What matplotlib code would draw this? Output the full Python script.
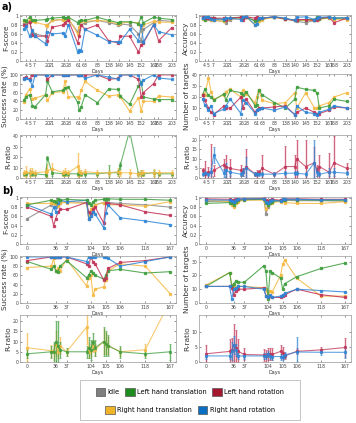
import numpy as np
import matplotlib
matplotlib.use("Agg")
import matplotlib.pyplot as plt
from matplotlib.patches import Patch, Rectangle

# colours
c_idle = "#8a8a8a"
c_lt = "#3f9e3f"
c_lr = "#c23457"
c_rt = "#f5b942"
c_rr = "#2e86d6"

# ---------------- panel a) data ----------------
days_a = [4, 5, 7, 20, 21, 26, 28, 61, 63, 83, 138, 140, 145, 152, 167, 168, 203]
day_pos_a = [1.5, 2.5, 3.75, 7.0, 8.25, 11.25, 12.5, 15.25, 16.75, 20.0, 23.0, 25.5,
             28.25, 31.25, 34.5, 35.75, 39.25]
sess_a = [1.0, 1.5, 2.5, 3.2, 3.9, 6.6, 7.1, 8.3, 11.1, 11.6, 12.5, 14.9, 15.3, 15.8,
          16.8, 20.0, 22.9, 25.4, 25.9, 28.3, 30.6, 31.3, 31.9, 34.5, 35.8, 39.2]

f_a_lt = [0.90, 0.89, 0.97, 0.90, 0.90, 0.92, 0.93, 0.95, 0.97, 0.96, 0.97, 0.85, 0.88,
          0.90, 0.90, 0.97, 0.90, 0.85, 0.87, 0.87, 0.83, 0.97, 0.85, 0.97, 0.95, 0.92]
f_a_rt = [0.88, 0.88, 0.90, 0.88, 0.86, 0.80, 0.78, 0.90, 0.92, 0.93, 0.95, 0.60, 0.75,
          0.88, 0.88, 0.90, 0.88, 0.82, 0.84, 0.86, 0.85, 0.67, 0.80, 0.88, 0.86, 0.86]
f_a_idle = [0.85, 0.85, 0.88, 0.65, 0.60, 0.55, 0.80, 0.90, 0.92, 0.90, 0.92, 0.65, 0.70,
            0.80, 0.85, 0.90, 0.85, 0.80, 0.82, 0.80, 0.60, 0.45, 0.70, 0.85, 0.90, 0.88]
f_a_lr = [0.80, 0.77, 0.87, 0.58, 0.55, 0.55, 0.45, 0.75, 0.80, 0.85, 0.90, 0.40, 0.55,
          0.80, 0.70, 0.80, 0.45, 0.40, 0.55, 0.55, 0.20, 0.35, 0.40, 0.80, 0.45, 0.74]
f_a_rr = [0.70, 0.77, 0.55, 0.68, 0.55, 0.38, 0.65, 0.60, 0.62, 0.55, 0.80, 0.20, 0.25,
          0.23, 0.70, 0.57, 0.43, 0.43, 0.42, 0.70, 0.45, 0.80, 0.43, 0.80, 0.65, 0.58]

acc_a_lt = [0.95, 0.90, 0.97, 0.95, 0.95, 0.92, 0.93, 0.96, 0.97, 0.95, 0.98, 0.88, 0.90,
            0.93, 0.95, 0.98, 0.94, 0.90, 0.90, 0.92, 0.92, 0.98, 0.93, 0.97, 0.95, 0.95]
acc_a_rt = [0.93, 0.90, 0.95, 0.92, 0.90, 0.88, 0.90, 0.93, 0.95, 0.95, 0.97, 0.80, 0.85,
            0.88, 0.92, 0.97, 0.93, 0.90, 0.90, 0.90, 0.90, 0.90, 0.93, 0.95, 0.92, 0.92]
acc_a_idle = [0.95, 0.95, 0.93, 0.92, 0.90, 0.88, 0.85, 0.92, 0.95, 0.95, 0.97, 0.90, 0.92,
              0.93, 0.95, 0.97, 0.93, 0.90, 0.88, 0.85, 0.90, 0.93, 0.95, 0.95, 0.96, 0.95]
acc_a_lr = [0.97, 0.96, 0.95, 0.95, 0.95, 0.95, 0.92, 0.95, 0.97, 0.90, 0.98, 0.95, 0.97,
            0.96, 0.95, 0.98, 0.93, 0.90, 0.92, 0.92, 0.90, 0.92, 0.95, 0.97, 0.85, 0.95]
acc_a_rr = [0.95, 0.97, 0.98, 0.93, 0.92, 0.93, 0.95, 0.95, 0.92, 0.97, 0.99, 0.80, 0.82,
            0.96, 0.95, 0.98, 0.95, 0.90, 0.97, 0.98, 0.92, 0.95, 0.97, 0.98, 0.95, 0.96]

sr_a_rr = [90, 92, 88, 75, 100, 100, 100, 100, 100, 100, 100, 100, 100, 100, 92, 100,
           95, 90, 100, 100, 100, 80, 88, 100, 93, 90]
sr_a_lr = [92, 95, 90, 100, 100, 100, 90, 100, 100, 100, 100, 100, 100, 100, 100, 100,
           90, 92, 100, 100, 90, 50, 60, 80, 100, 100]
sr_a_lt = [42, 50, 55, 30, 28, 55, 85, 62, 65, 70, 72, 38, 20, 27, 55, 37, 68, 67, 52,
           33, 75, 84, 50, 45, 44, 44]
sr_a_rt = [38, 55, 68, 45, 47, 55, 42, 60, 62, 85, 50, 50, 48, 65, 85, 65, 52, 55, 50,
           18, 48, 18, 40, 40, 52, 50]

nt_a_rt = [23, 22, 37, 25, 18, 22, 25, 27, 20, 26, 23, 15, 20, 26, 17, 14, 15, 24, 10,
           24, 10, 10, 12, 15, 20, 24]
nt_a_lt = [22, 27, 22, 20, 17, 23, 17, 26, 24, 22, 25, 12, 13, 26, 22, 15, 10, 18, 29,
           27, 26, 24, 10, 12, 18, 16]
nt_a_lr = [22, 17, 10, 6, 4, 12, 10, 10, 20, 10, 18, 6, 8, 10, 10, 11, 12, 4, 6, 10, 6,
           5, 5, 8, 11, 10]
nt_a_rr = [18, 13, 8, 12, 5, 9, 12, 18, 5, 17, 15, 5, 8, 9, 10, 8, 11, 4, 12, 6, 5, 4,
           6, 9, 12, 10]

rr_a_lt = [4, 4, 5, 4, 4, 3, 19, 5, 4, 4, 4, 4, 5, 4, 4, 4, 5, 5, 12, 45, 4, 5, 4, 5, 4, 4]
rr_a_lt_err = [2, 2, 3, 2, 2, 2, 2, 3, 2, 2, 2, 2, 3, 2, 2, 2, 7, 3, 3, 2, 2, 3, 2, 3, 2, 2]
rr_a_rt = [5, 6, 5, 6, 5, 6, 7, 9, 5, 6, 5, 11, 6, 5, 6, 5, 5, 6, 5, 5, 4, 5, 5, 5, 5, 5]
rr_a_rt_err = [3, 5, 5, 4, 3, 4, 6, 5, 3, 4, 3, 13, 4, 3, 3, 3, 3, 4, 3, 4, 3, 3, 3, 4, 3, 3]
rr_a_lr = [4, 2, 3, 3, 4, 7, 6, 5, 4, 3, 6, 2, 2, 3, 5, 2, 6, 6, 10, 6, 8, 4, 6, 3, 8, 5]
rr_a_lr_err = [1, 7, 3, 15, 3, 3, 6, 5, 3, 2, 9, 1, 2, 1, 7, 1, 11, 6, 10, 14, 8, 3, 6,
               10, 14, 3]
rr_a_rr = [2, 2.5, 2, 3, 12, 2.5, 4, 3, 2, 3, 5, 2, 2, 2, 2, 2, 2.5, 2.5, 2.5, 2, 8, 3,
           2, 3, 3, 2.5]
rr_a_rr_err = [1, 1, 1, 2, 4, 2, 4, 2, 1, 2, 6, 1, 1, 1, 1, 1, 1, 1, 1, 1, 12, 2, 1, 2, 2, 1]

# ---------------- panel b) data ----------------
days_b = [0, 36, 37, 104, 105, 106, 118, 167]
day_pos_b = [0, 4.0, 5.5, 8.9, 11.0, 13.0, 16.5, 20.0]
sess_b = [0, 3.4, 3.7, 4.0, 4.3, 4.6, 5.5, 8.3, 8.6, 8.9, 9.2, 9.5, 10.7, 11.0, 11.3,
          13.0, 16.5, 20.0]

f_b_lt = [0.85, 0.95, 0.93, 0.92, 0.97, 0.95, 0.97, 0.95, 0.90, 0.85, 0.92, 0.95, 0.97,
          0.98, 0.98, 0.97, 0.97, 0.95]
f_b_rt = [0.88, 0.88, 0.90, 0.87, 0.82, 0.90, 0.90, 0.88, 0.62, 0.75, 0.80, 0.85, 0.90,
          0.90, 0.85, 0.85, 0.82, 0.92]
f_b_idle = [0.55, 0.85, 0.90, 0.80, 0.85, 0.90, 0.92, 0.90, 0.55, 0.60, 0.70, 0.85, 0.90,
            0.92, 0.90, 0.88, 0.85, 0.80]
f_b_lr = [0.80, 0.60, 0.40, 0.55, 0.70, 0.75, 0.75, 0.90, 0.70, 0.65, 0.75, 0.80, 0.45,
          0.90, 0.88, 0.85, 0.70, 0.62]
f_b_rr = [0.85, 0.65, 0.80, 0.70, 0.90, 0.95, 0.92, 0.95, 0.55, 0.60, 0.70, 0.65, 0.35,
          0.68, 0.85, 0.57, 0.50, 0.42]

acc_b_lt = [0.88, 0.90, 0.88, 0.85, 0.92, 0.95, 0.96, 0.97, 0.88, 0.85, 0.90, 0.92, 0.95,
            0.96, 0.96, 0.96, 0.95, 0.95]
acc_b_rt = [0.95, 0.92, 0.85, 0.80, 0.88, 0.92, 0.95, 0.95, 0.75, 0.85, 0.88, 0.90, 0.92,
            0.95, 0.90, 0.88, 0.88, 0.92]
acc_b_idle = [0.92, 0.93, 0.90, 0.90, 0.92, 0.95, 0.97, 0.97, 0.65, 0.80, 0.88, 0.92,
              0.94, 0.95, 0.95, 0.94, 0.94, 0.93]
acc_b_lr = [0.98, 0.97, 0.96, 0.95, 0.97, 0.98, 0.98, 0.99, 0.95, 0.93, 0.96, 0.97, 0.95,
            0.98, 0.98, 0.98, 0.97, 0.97]
acc_b_rr = [0.96, 0.95, 0.93, 0.92, 0.95, 0.97, 0.98, 0.98, 0.92, 0.90, 0.93, 0.95, 0.93,
            0.97, 0.97, 0.97, 0.96, 0.96]

sr_b_rr = [100, 100, 100, 100, 100, 100, 100, 90, 100, 100, 100, 100, 100, 100, 97, 80,
           90, 100]
sr_b_lr = [92, 100, 100, 100, 100, 100, 100, 85, 80, 100, 90, 85, 50, 55, 75, 88, 92, 100]
sr_b_lt = [90, 73, 80, 70, 68, 80, 92, 55, 60, 70, 65, 60, 52, 60, 70, 73, 65, 68]
sr_b_rt = [77, 80, 97, 70, 75, 70, 95, 37, 55, 60, 17, 30, 35, 50, 70, 85, 80, 20]

nt_b_lt = [12, 22, 12, 14, 16, 15, 15, 27, 23, 3, 23, 22, 18, 10, 14, 19, 25, 29]
nt_b_rt = [13, 22, 13, 12, 11, 12, 12, 11, 10, 5, 9, 8, 20, 28, 31, 18, 5, 5]
nt_b_lr = [12, 12, 11, 6, 9, 10, 10, 11, 5, 4, 5, 4, 4, 5, 6, 10, 6, 4]
nt_b_rr = [12, 12, 3, 10, 11, 12, 12, 10, 5, 4, 6, 4, 5, 6, 7, 10, 9, 8]

rr_b_rt = [7, 5.5, 5, 9, 5, 8, 5, 17, 5, 6, 8, 6, 10, 9, 8, 5, 6, 30]
rr_b_rt_err = [7, 3, 4, 6, 3, 4, 2, 8, 3, 3, 3, 3, 6, 5, 4, 2, 3, 5]
rr_b_lt = [4, 5, 5, 10, 8, 6, 5, 5, 7, 6, 10, 7, 10, 9, 8, 5, 4, 5]
rr_b_lt_err = [2, 3, 5, 10, 12, 4, 2, 3, 5, 5, 4, 4, 7, 6, 5, 3, 2, 4]
rr_b_lr = [2.7, 3.5, 4.0, 5.5, 4.5, 3.5, 2.5, 2.3, 2.0, 2.5, 2.7, 2.5, 3.5, 3.0, 2.0,
           3.5, 4.0, 4.8]
rr_b_lr_err = [3, 4, 4, 7, 6, 4, 2, 2, 2, 2, 2, 2, 2, 2, 1, 1, 1, 3]
rr_b_rr = [2.0, 2.0, 3.5, 5.5, 4.0, 2.0, 2.0, 2.0, 2.0, 2.5, 2.0, 1.8, 1.8, 1.8, 2.3,
           3.3, 3.2, 3.2]
rr_b_rr_err = [1, 1, 3, 3, 2, 1, 1, 1, 1, 1, 1, 1, 1, 1, 1, 5, 1, 2]

# ---------------- figure ----------------
W, H = 356, 423
fig = plt.figure(figsize=(W / 100, H / 100), dpi=100)


def make_ax(col, top, bottom):
    if col == 0:
        x0, x1 = 20, 176
    else:
        x0, x1 = 199, 351
    return fig.add_axes([x0 / W, 1 - bottom / H, (x1 - x0) / W, (bottom - top) / H])


def style(ax, ticks, labels, xlim, ylim, yticks, ylabel):
    ax.set_xticks(ticks)
    ax.set_xticklabels([str(d) for d in labels])
    ax.set_xlim(*xlim)
    ax.set_ylim(*ylim)
    ax.set_yticks(yticks)
    ax.set_yticklabels([f"{t:g}" for t in yticks])
    ax.set_ylabel(ylabel, fontsize=5.3, labelpad=1, color="#333333")
    ax.set_xlabel("Days", fontsize=3.5, labelpad=1, color="#333333")
    ax.tick_params(labelsize=3.3, direction="in", length=1.5, width=0.4, pad=1.2,
                   top=True, right=True, colors="#444444")
    for s in ax.spines.values():
        s.set_linewidth(0.5)
        s.set_color("#999999")


def line(ax, x, y, c):
    ax.plot(x, y, color=c, marker="s", ms=1.4, lw=0.8, alpha=0.85)


def ebar(ax, x, y, e, c):
    y = np.array(y, dtype=float)
    e = np.array(e, dtype=float)
    lo = np.minimum(e, y)
    ax.errorbar(x, y, yerr=[lo, e], color=c, marker="s", ms=1.3, lw=0.8,
                elinewidth=1.0, capsize=0.8, capthick=0.5, alpha=0.75)


xlim_a = (0, 40.3)
xlim_b = (-1, 20.8)
fticks = [0, 0.2, 0.4, 0.6, 0.8, 1]

# a) F-score / Accuracy
ax = make_ax(0, 15, 61)
for y, c in [(f_a_idle, c_idle), (f_a_rt, c_rt), (f_a_lr, c_lr), (f_a_rr, c_rr),
             (f_a_lt, c_lt)]:
    line(ax, sess_a, y, c)
style(ax, day_pos_a, days_a, xlim_a, (0, 1.02), fticks, "F-score")

ax = make_ax(1, 15, 61)
for y, c in [(acc_a_idle, c_idle), (acc_a_rt, c_rt), (acc_a_lt, c_lt), (acc_a_lr, c_lr),
             (acc_a_rr, c_rr)]:
    line(ax, sess_a, y, c)
style(ax, day_pos_a, days_a, xlim_a, (0, 1.02), fticks, "Accuracy")

# a) Success rate / Number of targets
ax = make_ax(0, 74, 119)
for y, c in [(sr_a_rt, c_rt), (sr_a_lt, c_lt), (sr_a_lr, c_lr), (sr_a_rr, c_rr)]:
    line(ax, sess_a, y, c)
style(ax, day_pos_a, days_a, xlim_a, (0, 102), [0, 20, 40, 60, 80, 100], "Success rate (%)")

ax = make_ax(1, 74, 119)
for y, c in [(nt_a_rt, c_rt), (nt_a_lt, c_lt), (nt_a_lr, c_lr), (nt_a_rr, c_rr)]:
    line(ax, sess_a, y, c)
style(ax, day_pos_a, days_a, xlim_a, (0, 41), [0, 10, 20, 30, 40], "Number of targets")

# a) R-ratio
ax = make_ax(0, 135, 178)
ebar(ax, sess_a, rr_a_lt, rr_a_lt_err, c_lt)
ebar(ax, sess_a, rr_a_rt, rr_a_rt_err, c_rt)
style(ax, day_pos_a, days_a, xlim_a, (0, 41), [0, 10, 20, 30, 40], "R-ratio")

ax = make_ax(1, 135, 178)
ebar(ax, sess_a, rr_a_lr, rr_a_lr_err, c_lr)
ebar(ax, sess_a, rr_a_rr, rr_a_rr_err, c_rr)
style(ax, day_pos_a, days_a, xlim_a, (0, 22.5), [0, 5, 10, 15, 20], "R-ratio")

# b) F-score / Accuracy
ax = make_ax(0, 197, 244)
for y, c in [(f_b_idle, c_idle), (f_b_rt, c_rt), (f_b_lr, c_lr), (f_b_rr, c_rr),
             (f_b_lt, c_lt)]:
    line(ax, sess_b, y, c)
style(ax, day_pos_b, days_b, xlim_b, (0, 1.02), fticks, "F-score")

ax = make_ax(1, 197, 244)
for y, c in [(acc_b_idle, c_idle), (acc_b_rt, c_rt), (acc_b_lt, c_lt), (acc_b_lr, c_lr),
             (acc_b_rr, c_rr)]:
    line(ax, sess_b, y, c)
style(ax, day_pos_b, days_b, xlim_b, (0, 1.02), fticks, "Accuracy")

# b) Success rate / Number of targets
ax = make_ax(0, 256, 303)
for y, c in [(sr_b_rt, c_rt), (sr_b_lt, c_lt), (sr_b_lr, c_lr), (sr_b_rr, c_rr)]:
    line(ax, sess_b, y, c)
style(ax, day_pos_b, days_b, xlim_b, (0, 102), [0, 20, 40, 60, 80, 100], "Success rate (%)")

ax = make_ax(1, 256, 303)
for y, c in [(nt_b_rt, c_rt), (nt_b_lt, c_lt), (nt_b_lr, c_lr), (nt_b_rr, c_rr)]:
    line(ax, sess_b, y, c)
style(ax, day_pos_b, days_b, xlim_b, (0, 34), [0, 10, 20, 30], "Number of targets")

# b) R-ratio
ax = make_ax(0, 315, 362)
ebar(ax, sess_b, rr_b_rt, rr_b_rt_err, c_rt)
ebar(ax, sess_b, rr_b_lt, rr_b_lt_err, c_lt)
style(ax, day_pos_b, days_b, xlim_b, (0, 23), [0, 5, 10, 15, 20], "R-ratio")

ax = make_ax(1, 315, 362)
ebar(ax, sess_b, rr_b_lr, rr_b_lr_err, c_lr)
ebar(ax, sess_b, rr_b_rr, rr_b_rr_err, c_rr)
style(ax, day_pos_b, days_b, xlim_b, (0, 15.5), [0, 5, 10], "R-ratio")

# panel letters
fig.text(2 / W, 1 - 2 / H, "a)", fontsize=7, fontweight="bold", va="top", ha="left")
fig.text(2 / W, 1 - 186 / H, "b)", fontsize=7, fontweight="bold", va="top", ha="left")

# legend
fig.patches.append(Rectangle((80 / W, 1 - 420 / H), 220 / W, 40 / H,
                             transform=fig.transFigure, fill=False,
                             edgecolor="#bbbbbb", lw=0.6))
leg_kw = dict(frameon=False, fontsize=4.8, handlelength=1.4, handleheight=1.4,
              handletextpad=0.4, columnspacing=0.8, borderpad=0)


def patch(c):
    return Patch(facecolor=c, edgecolor="#555555", lw=0.5)


l1 = fig.legend([patch("#7f7f7f"), patch("#1e8c1e"), patch("#a3172f")],
                ["Idle", "Left hand translation", "Left hand rotation"],
                ncol=3, loc="center", bbox_to_anchor=(190 / W, 1 - 392 / H), **leg_kw)
l2 = fig.legend([patch("#f0b429"), patch("#0a6fc2")],
                ["Right hand translation", "Right hand rotation"],
                ncol=2, loc="center", bbox_to_anchor=(190 / W, 1 - 410 / H), **leg_kw)

fig.savefig("out.png", dpi=100)
